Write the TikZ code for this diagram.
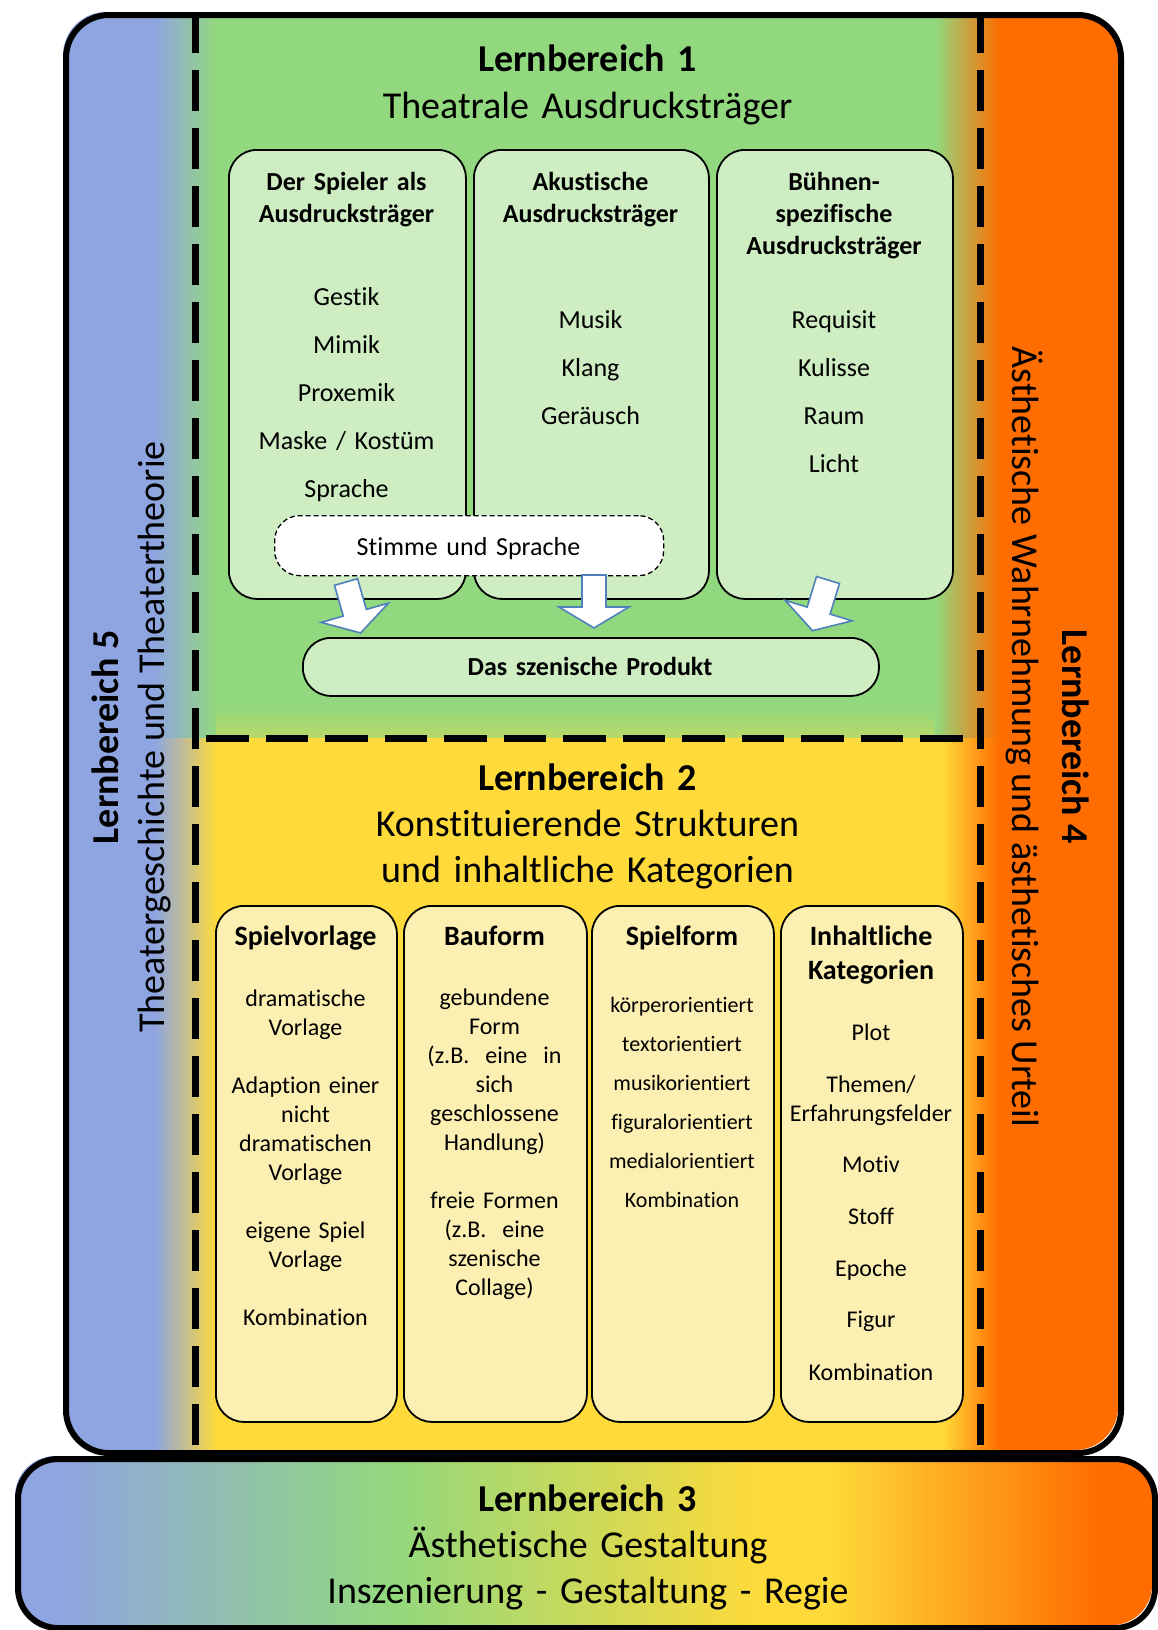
\documentclass[tikz,border=0pt]{standalone}
\usepackage{fontspec}
\setmainfont{Carlito}[Ligatures=NoCommon]

\definecolor{lbblue}{RGB}{143,165,225}
\definecolor{lbgreen}{RGB}{146,216,126}
\definecolor{lbyellow}{RGB}{254,218,58}
\definecolor{lborange}{RGB}{255,108,0}
\definecolor{boxgreen}{RGB}{206,237,195}
\definecolor{boxyellow}{RGB}{252,239,178}
\definecolor{arrowline}{RGB}{79,129,189}

\newcommand\setfs[2]{\fontsize{#1pt}{#2pt}\selectfont}

\tikzset{
  frame/.style={draw=black, line width=6pt, rounded corners=43pt, inner sep=0pt, anchor=north west},
  divider/.style={draw=black, line width=7pt, dash pattern=on 41pt off 17pt},
  greenbox/.style={draw=black, line width=1.8pt, fill=boxgreen, rounded corners=28pt, inner sep=0pt, anchor=north west},
  yellowbox/.style={draw=black, line width=1.8pt, fill=boxyellow, rounded corners=28pt, inner sep=0pt, anchor=north west},
  txt/.style={inner sep=0pt, align=center, anchor=base, text width=#1},
  txt/.default=230pt,
  sidetxt/.style={inner sep=0pt, anchor=base, font=\setfs{38}{46}},
  blockarrow/.style={draw=arrowline, line width=1.6pt, fill=white, line join=miter},
  pics/downarrow/.style={code={
    \draw[blockarrow] (-12,0) -- (12,0) -- (12,32) -- (35,32) -- (0,53)
      -- (-35,32) -- (-12,32) -- cycle;
  }},
}

\begin{document}
\begin{tikzpicture}[x=1pt,y=-1pt]
\useasboundingbox (0,0) rectangle (1157,1630);
\fill[white] (0,0) rectangle (1157,1630);

% coloured bands inside the upper frame
\begin{scope}
  \clip[rounded corners=43pt] (63,12) rectangle (1118,1450);
  \fill[lbblue] (63,12) rectangle (156,1450);
  \fill[lborange] (999,12) rectangle (1118,1450);
  \fill[lbgreen] (215,12) rectangle (936,738);
  \shade[top color=lbgreen, bottom color=lbgreen!65!lbyellow] (215,706) rectangle (936,738);
  \fill[lbyellow] (215,738) rectangle (943,1450);
  \shade[left color=lbblue, right color=lbgreen] (155,12) rectangle (216,738);
  \shade[left color=lbblue, right color=lbyellow] (155,738) rectangle (216,1450);
  \shade[left color=lbgreen, right color=lborange] (935,12) rectangle (1000,738);
  \shade[left color=lbyellow, right color=lborange] (942,738) rectangle (1000,1450);
\end{scope}

% colour ramp of the bottom band
\begin{scope}
  \clip[rounded corners=40pt] (15,1456) rectangle (1152,1625);
  \fill[lbblue] (15,1456) rectangle (61,1625);
  \shade[left color=lbblue, right color=lbgreen] (60,1456) rectangle (391,1625);
  \shade[left color=lbgreen, right color=lbyellow] (390,1456) rectangle (761,1625);
  \fill[lbyellow] (760,1456) rectangle (831,1625);
  \shade[left color=lbyellow, right color=lborange] (830,1456) rectangle (1101,1625);
  \fill[lborange] (1100,1456) rectangle (1152,1625);
\end{scope}

% dashed dividers between the areas
\draw[divider] (195,12) -- (195,1450);
\draw[divider] (980,12) -- (980,1450);
\draw[divider, dash pattern=on 42.5pt off 17pt] (206,738) -- (965,738);

% outlines of the two frames
\node[frame, minimum width=1055pt, minimum height=1438pt] (upper) at (63,12) {};
\node[frame, rounded corners=40pt, minimum width=1137pt, minimum height=169pt] (lb3) at (15,1456) {};

% Lernbereich 1
\node[txt=700pt, font=\setfs{38}{47}] (lb1title) at (587.5,71)
  {\textbf{Lernbereich 1}\\Theatrale Ausdrucksträger};

\node[greenbox, minimum width=237pt, minimum height=449pt] (spieler) at (228,149) {};
\node[greenbox, minimum width=235pt, minimum height=449pt] (akustik) at (473,149) {};
\node[greenbox, minimum width=236pt, minimum height=449pt] (buehne) at (716,149) {};

\node[txt, font=\bfseries\setfs{26}{32}] (spielerhead) at (346.5,190) {Der Spieler als\\Ausdrucksträger};
\node[txt, font=\setfs{26}{48}] (spieleritems) at (346.5,305) {Gestik\\Mimik\\Proxemik\\Maske / Kostüm\\Sprache};
\node[txt, font=\bfseries\setfs{26}{32}] (akustikhead) at (590.5,190) {Akustische\\Ausdrucksträger};
\node[txt, font=\setfs{26}{48}] (akustikitems) at (590.5,328) {Musik\\Klang\\Geräusch};
\node[txt, font=\bfseries\setfs{26}{32}] (buehnehead) at (834,190) {Bühnen-\\spezifische\\Ausdrucksträger};
\node[txt, font=\setfs{26}{48}] (buehneitems) at (834,328) {Requisit\\Kulisse\\Raum\\Licht};

\node[draw=black, line width=1.3pt, dash pattern=on 5pt off 3pt, fill=white,
  rounded corners=25pt, minimum width=389pt, minimum height=60pt, inner sep=0pt,
  anchor=north west] (stimme) at (274,515) {};
\node[txt, font=\setfs{26}{32}] (stimmetext) at (468.5,555) {Stimme und Sprache};

\node[greenbox, minimum width=576pt, minimum height=58pt] (produkt) at (302,637) {};
\node[txt=500pt, font=\bfseries\setfs{26}{32}] (produkttext) at (590,675) {Das szenische Produkt};

% block arrows into the product
\pic[rotate=16] (arrowspieler) at (346,582) {downarrow};
\pic (arrowakustik) at (594,575) {downarrow};
\pic[rotate=-17] (arrowbuehne) at (828,580) {downarrow};

% Lernbereich 2
\node[txt=700pt, font=\setfs{38}{46}] (lb2title) at (587.5,790)
  {\textbf{Lernbereich 2}\\Konstituierende Strukturen\\und inhaltliche Kategorien};

\node[yellowbox, minimum width=181pt, minimum height=516pt] (vorlage) at (215,905) {};
\node[yellowbox, minimum width=183pt, minimum height=516pt] (bauform) at (403,905) {};
\node[yellowbox, minimum width=182pt, minimum height=516pt] (spielform) at (591,905) {};
\node[yellowbox, minimum width=182pt, minimum height=516pt] (inhalt) at (780,905) {};

\node[txt=175pt, font=\bfseries\setfs{28}{34}] (vorlagehead) at (305.5,945) {Spielvorlage};
\node[txt=175pt, font=\setfs{24}{29}] (vorlageitems) at (305.5,1006)
  {dramatische\\Vorlage\\[29pt]Adaption einer\\nicht\\dramatischen\\Vorlage\\[29pt]eigene Spiel\\Vorlage\\[29pt]Kombination};

\node[txt=175pt, font=\bfseries\setfs{28}{34}] (bauformhead) at (494.5,945) {Bauform};
\node[txt=175pt, font=\setfs{24}{29}] (bauformitems) at (494.5,1005)
  {gebundene\\Form\\(z.B.\ \ eine\ \ in\\sich\\geschlossene\\Handlung)\\[29pt]freie Formen\\(z.B.\ \ eine\\szenische\\Collage)};

\node[txt=175pt, font=\bfseries\setfs{28}{34}] (spielformhead) at (682,945) {Spielform};
\node[txt=175pt, font=\setfs{22}{39}] (spielformitems) at (682,1012)
  {körperorientiert\\textorientiert\\musikorientiert\\figuralorientiert\\medialorientiert\\Kombination};

\node[txt=175pt, font=\bfseries\setfs{28}{34}] (inhalthead) at (871,945) {Inhaltliche\\Kategorien};
\node[txt=178pt, font=\setfs{24}{29}] (inhaltitems) at (871,1040)
  {Plot\\[23pt]Themen/\\Erfahrungsfelder\\[22pt]Motiv\\[23pt]Stoff\\[23pt]Epoche\\[22pt]Figur\\[24pt]Kombination};

% Lernbereich 3
\node[txt=900pt, font=\setfs{38}{46}] (lb3title) at (588,1511)
  {\textbf{Lernbereich 3}\\Ästhetische Gestaltung\\Inszenierung - Gestaltung - Regie};

% side bands: Lernbereich 5 and 4
\node[sidetxt, font=\bfseries\setfs{38}{46}, rotate=90] (lb5) at (118,737) {Lernbereich 5};
\node[sidetxt, rotate=90] (lb5text) at (164,737) {Theatergeschichte und Theatertheorie};
\node[sidetxt, font=\bfseries\setfs{38}{46}, rotate=-90] (lb4) at (1062,737) {Lernbereich 4};
\node[sidetxt, rotate=-90] (lb4text) at (1012,737) {Ästhetische Wahrnehmung und ästhetisches Urteil};
\end{tikzpicture}
\end{document}
